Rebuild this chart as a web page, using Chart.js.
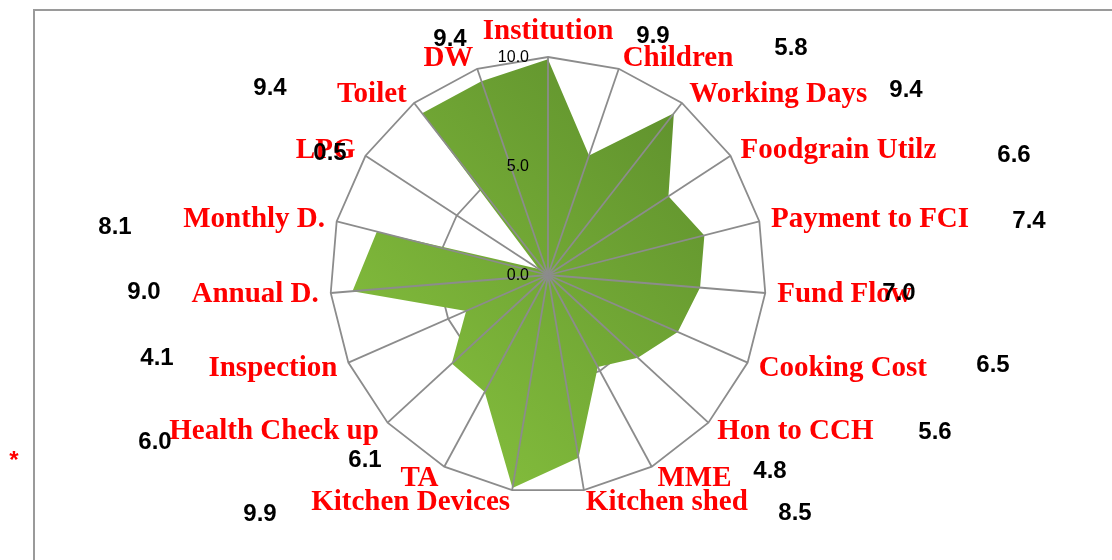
<!DOCTYPE html>
<html>
<head>
<meta charset="utf-8">
<script src="https://cdn.jsdelivr.net/npm/chart.js@4"></script>
<style>
  html, body { margin: 0; padding: 0; background: #fff; }
  #wrap { position: relative; width: 1112px; height: 560px; }
</style>
</head>
<body>
<div id="wrap"><canvas id="radar" width="1112" height="560"></canvas></div>
<script>
// categories clockwise from the top
const categories = ['Institution', 'Children', 'Working Days', 'Foodgrain Utilz', 'Payment to FCI',
    'Fund Flow', 'Cooking Cost', 'Hon to CCH', 'MME', 'Kitchen shed', 'Kitchen Devices', 'TA',
    'Health Check up', 'Inspection', 'Annual D.', 'Monthly D.', 'LPG', 'Toilet', 'DW'];
const scores = [9.9, 5.8, 9.4, 6.6, 7.4, 7.0, 6.5, 5.6, 4.8, 8.5, 9.9, 6.1, 6.0, 4.1, 9.0, 8.1, 0.5, 9.4, 9.4];
const tickValues = [0, 5, 10];
// where the (stray) value labels sit, offset from the radar centre
const valueLabelOffsets = [
    [105, -239], [243, -227], [358, -185], [466, -120], [481, -54], [351, 18], [445, 90],
    [387, 157], [222, 196], [247, 238], [-288, 239], [-183, 185], [-393, 167], [-391, 83],
    [-404, 17], [-433, -48], [-218, -122], [-278, -187], [-98, -236]
];

const LABEL_FONT = 'bold 29px "Liberation Serif", "Times New Roman", serif';
const VALUE_FONT = 'bold 24px "Liberation Sans", Arial, sans-serif';
const TICK_FONT = '16px "Liberation Sans", Arial, sans-serif';
const GRID_COLOR = '#8c8c8c';

function greenFill(context) {
    const chart = context.chart;
    const s = chart.scales.r;
    if (!s || !s.drawingArea) return '#76b038';
    const r = s.drawingArea;
    const g = chart.ctx.createLinearGradient(s.xCenter + r, s.yCenter - r, s.xCenter - r, s.yCenter + r);
    g.addColorStop(0, '#58882a');
    g.addColorStop(1, '#8cc840');
    return g;
}

const decorPlugin = {
    id: 'decor',
    beforeDraw(chart) {
        const ctx = chart.ctx;
        ctx.save();
        ctx.strokeStyle = '#9a9a9a';
        ctx.lineWidth = 2;
        ctx.beginPath();
        ctx.moveTo(34, chart.height);
        ctx.lineTo(34, 10);
        ctx.lineTo(chart.width, 10);
        ctx.stroke();
        ctx.fillStyle = '#ff0000';
        ctx.font = 'bold 24px "Liberation Sans", Arial, sans-serif';
        ctx.textAlign = 'center';
        ctx.textBaseline = 'middle';
        ctx.fillText('*', 14, 461);
        ctx.restore();
    },
    afterDatasetsDraw(chart) {
        // spokes go over the green area, the rings stay under it
        const s = chart.scales.r;
        const ctx = chart.ctx;
        ctx.save();
        ctx.strokeStyle = GRID_COLOR;
        ctx.lineWidth = 1.8;
        categories.forEach((c, i) => {
            const p = s.getPointPosition(i, s.drawingArea);
            ctx.beginPath();
            ctx.moveTo(s.xCenter, s.yCenter);
            ctx.lineTo(p.x, p.y);
            ctx.stroke();
        });
        ctx.restore();
    },
    afterDraw(chart) {
        const s = chart.scales.r;
        const ctx = chart.ctx;
        ctx.save();

        // tick labels, right aligned just left of the centre line
        ctx.font = TICK_FONT;
        ctx.fillStyle = '#000';
        ctx.textAlign = 'right';
        ctx.textBaseline = 'middle';
        tickValues.forEach(v => {
            const d = s.getDistanceFromCenterForValue(v);
            ctx.fillText(v.toFixed(1), s.xCenter - 19, s.yCenter - d + 1);
        });

        // category labels
        ctx.font = LABEL_FONT;
        ctx.fillStyle = '#ff0000';
        categories.forEach((c, i) => {
            const p = s.getPointPosition(i, s.drawingArea + 12);
            const sn = Math.sin(s.getIndexAngle(i));
            if (Math.abs(sn) < 0.01) {
                ctx.textAlign = 'center';
                ctx.textBaseline = 'bottom';
            } else {
                ctx.textAlign = sn > 0 ? 'left' : 'right';
                ctx.textBaseline = 'middle';
            }
            ctx.fillText(c, p.x, p.y + 1);
        });

        // value labels
        ctx.font = VALUE_FONT;
        ctx.fillStyle = '#000';
        ctx.textAlign = 'center';
        ctx.textBaseline = 'middle';
        scores.forEach((v, i) => {
            const o = valueLabelOffsets[i];
            ctx.fillText(v.toFixed(1), s.xCenter + o[0], s.yCenter + o[1]);
        });
        ctx.restore();
    }
};

new Chart(document.getElementById('radar'), {
    type: 'radar',
    data: {
        labels: categories,
        datasets: [{
            label: 'Score',
            data: scores,
            backgroundColor: greenFill,
            borderWidth: 0,
            pointRadius: 0,
            fill: true,
        }]
    },
    options: {
        responsive: false,
        animation: false,
        layout: { padding: { left: 0, right: 16, top: 57, bottom: 67 } },
        scales: {
            r: {
                min: 0,
                max: 10,
                ticks: { display: false, stepSize: 5 },
                pointLabels: { display: false },
                grid: { color: GRID_COLOR, lineWidth: 1.8 },
                angleLines: { display: false },
            }
        },
        plugins: {
            legend: { display: false },
            tooltip: { enabled: false },
        }
    },
    plugins: [decorPlugin]
});
</script>
</body>
</html>
